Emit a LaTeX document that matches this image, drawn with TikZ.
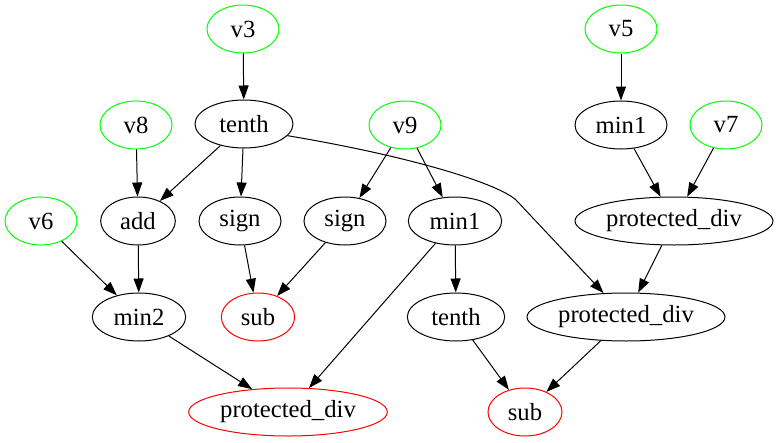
\documentclass[tikz,border=0pt]{standalone}
\usepackage{fontspec}
\setmainfont{Liberation Serif}
\usetikzlibrary{shapes.geometric,arrows.meta}
\definecolor{vgreen}{RGB}{0,255,0}
\definecolor{vred}{RGB}{255,0,0}
\begin{document}
\begin{tikzpicture}[x=0.75pt,y=-0.75pt,
  op/.style={ellipse,draw,line width=0.75pt,inner sep=0pt,minimum height=36pt,
             font=\fontsize{18.5pt}{20pt}\selectfont},
  var/.style={op,draw=vgreen,minimum width=54pt},
  res/.style={op,draw=vred},
  link/.style={line width=0.75pt,-{Triangle[length=10.5pt,width=7.5pt]}}]
\useasboundingbox (0,0) rectangle (779,443);

% inputs
\node[var] (v3) at (243,29) {v3};
\node[var] (v5) at (621,29) {v5};
\node[var] (v8) at (136,125) {v8};
\node[var] (v9) at (405,125) {v9};
\node[var] (v7) at (726,125) {v7};
\node[var] (v6) at (41,221) {v6};

% operators
\node[op,minimum width=73.5pt] (tenthA) at (244,124) {tenth};
\node[op,minimum width=69pt]   (minR)   at (621,125) {min1};
\node[op,minimum width=56pt]   (add)    at (138,221) {add};
\node[op,minimum width=61.5pt] (signA)  at (240,221) {sign};
\node[op,minimum width=61.5pt] (signB)  at (345,221) {sign};
\node[op,minimum width=70pt]   (minM)   at (455,221) {min1};
\node[op,minimum width=148.5pt] (pdA)   at (674,221) {protected\_div};
\node[op,minimum width=70pt]   (min2)   at (139,317) {min2};
\node[op,minimum width=73pt]   (tenthB) at (456,317) {tenth};
\node[op,minimum width=148.5pt] (pdB)   at (626,317) {protected\_div};

% outputs
\node[res,minimum width=55pt]    (subA) at (258,317) {sub};
\node[res,minimum width=149pt]   (pdC)  at (288,412) {protected\_div};
\node[res,minimum width=55.5pt]  (subB) at (525,412) {sub};

% connectors
\draw[link] (v3) -- (tenthA);
\draw[link] (v5) -- (minR);
\draw[link] (tenthA) -- (add);
\draw[link] (tenthA) -- (signA);
\draw[link] (tenthA.-15) .. controls (420,158) and (500,185) .. (516,200) -- (pdB);
\draw[link] (v8) -- (add);
\draw[link] (v9) -- (signB);
\draw[link] (v9) -- (minM);
\draw[link] (minR) -- (pdA);
\draw[link] (v7) -- (pdA);
\draw[link] (v6) -- (min2);
\draw[link] (add) -- (min2);
\draw[link] (signA) -- (subA);
\draw[link] (signB) -- (subA);
\draw[link] (minM) -- (pdC);
\draw[link] (minM) -- (tenthB);
\draw[link] (pdA) -- (pdB);
\draw[link] (min2) -- (pdC);
\draw[link] (tenthB) -- (subB);
\draw[link] (pdB) -- (subB);
\end{tikzpicture}
\end{document}
